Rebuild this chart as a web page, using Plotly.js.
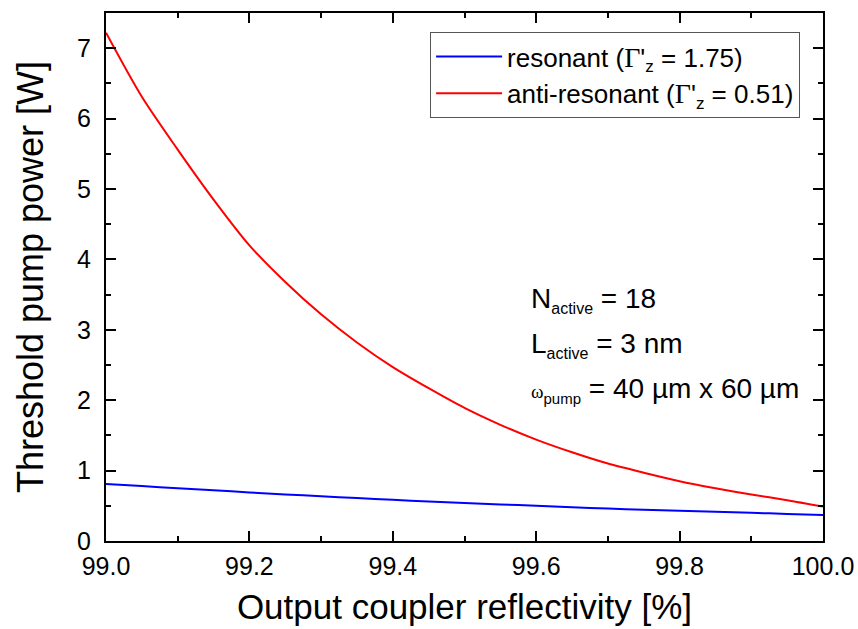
<!DOCTYPE html>
<html>
<head>
<meta charset="utf-8">
<script src="https://cdn.plot.ly/plotly-3.0.1.min.js"></script>
<style>html,body{margin:0;padding:0;background:#fff;}#chart{width:858px;height:629px;}</style>
</head>
<body>
<div id="chart"></div>
<script>
const reflectivity = [99.00, 99.05, 99.10, 99.15, 99.20, 99.25, 99.30, 99.35, 99.40, 99.45, 99.50,
                      99.55, 99.60, 99.65, 99.70, 99.75, 99.80, 99.85, 99.90, 99.95, 100.00];
const resonant = [0.81, 0.78, 0.75, 0.72, 0.69, 0.662, 0.635, 0.61, 0.585, 0.562, 0.54,
                  0.52, 0.50, 0.48, 0.46, 0.445, 0.43, 0.415, 0.40, 0.385, 0.37];
const antiResonant = [7.22, 6.31, 5.56, 4.85, 4.20, 3.68, 3.22, 2.82, 2.47, 2.17, 1.89,
                      1.65, 1.44, 1.26, 1.10, 0.97, 0.85, 0.75, 0.66, 0.58, 0.49];
const seriesNames = [
  "resonant (<span style='font-family:Liberation Serif;font-size:28px'>Γ</span>'<sub><span style='font-size:17px'>z</span></sub> = 1.75)",
  "anti-resonant (<span style='font-family:Liberation Serif;font-size:28px'>Γ</span>'<sub><span style='font-size:17px'>z</span></sub> = 0.51)"
];
const paramLines = [
  "N<sub><span style='font-size:16px'>active</span></sub> = 18",
  "L<sub><span style='font-size:16px'>active</span></sub> = 3 nm",
  "<span style='font-family:Liberation Serif;font-size:19px'>ω</span><sub><span style='font-size:15px'>pump</span></sub> = 40 µm x 60 µm"
];
const paramY = [3.43, 2.79, 2.15];

const font = "Liberation Sans, Arial, sans-serif";
const traces = [
  {x: reflectivity, y: resonant, name: seriesNames[0], type: 'scatter', mode: 'lines',
   line: {color: '#0000ff', width: 2, shape: 'spline', smoothing: 0.8}},
  {x: reflectivity, y: antiResonant, name: seriesNames[1], type: 'scatter', mode: 'lines',
   line: {color: '#ff0000', width: 2, shape: 'spline', smoothing: 0.8}}
];
const axisCommon = {
  showline: true, linecolor: '#000', linewidth: 2, mirror: 'ticks',
  ticks: 'inside', ticklen: 10, tickwidth: 2, tickcolor: '#000',
  showgrid: false, zeroline: false,
  tickfont: {family: font, size: 25, color: '#000'}
};
const layout = {
  width: 858, height: 629,
  margin: {l: 106, r: 35, t: 13, b: 88},
  paper_bgcolor: '#fff', plot_bgcolor: '#fff',
  font: {family: font, color: '#000'},
  showlegend: true,
  legend: {x: 0.452, y: 0.964, xanchor: 'left', yanchor: 'top',
           bordercolor: '#555', borderwidth: 1, bgcolor: '#fff', itemwidth: 66,
           font: {family: font, size: 26, color: '#000'}, tracegroupgap: 0},
  xaxis: Object.assign({}, axisCommon, {
    range: [99, 100], dtick: 0.2, tick0: 99, tickformat: '.1f', ticklabelstandoff: 2,
    minor: {dtick: 0.1, ticks: 'inside', ticklen: 5, tickwidth: 2, tickcolor: '#000'},
    title: {text: 'Output coupler reflectivity [%]', font: {family: font, size: 35, color: '#000'}, standoff: 15}
  }),
  yaxis: Object.assign({}, axisCommon, {
    range: [0, 7.5], dtick: 1, tick0: 0, ticklabelstandoff: 8,
    minor: {dtick: 0.5, ticks: 'inside', ticklen: 5, tickwidth: 2, tickcolor: '#000'},
    title: {text: 'Threshold pump power [W]', font: {family: font, size: 36, color: '#000'}, standoff: 22}
  }),
  annotations: paramLines.map((t, i) => ({
    x: 99.59, y: paramY[i], xref: 'x', yref: 'y', xanchor: 'left', yanchor: 'middle',
    text: t, showarrow: false, font: {family: font, size: 28, color: '#000'}
  }))
};
Plotly.newPlot('chart', traces, layout, {displayModeBar: false});
</script>
</body>
</html>
